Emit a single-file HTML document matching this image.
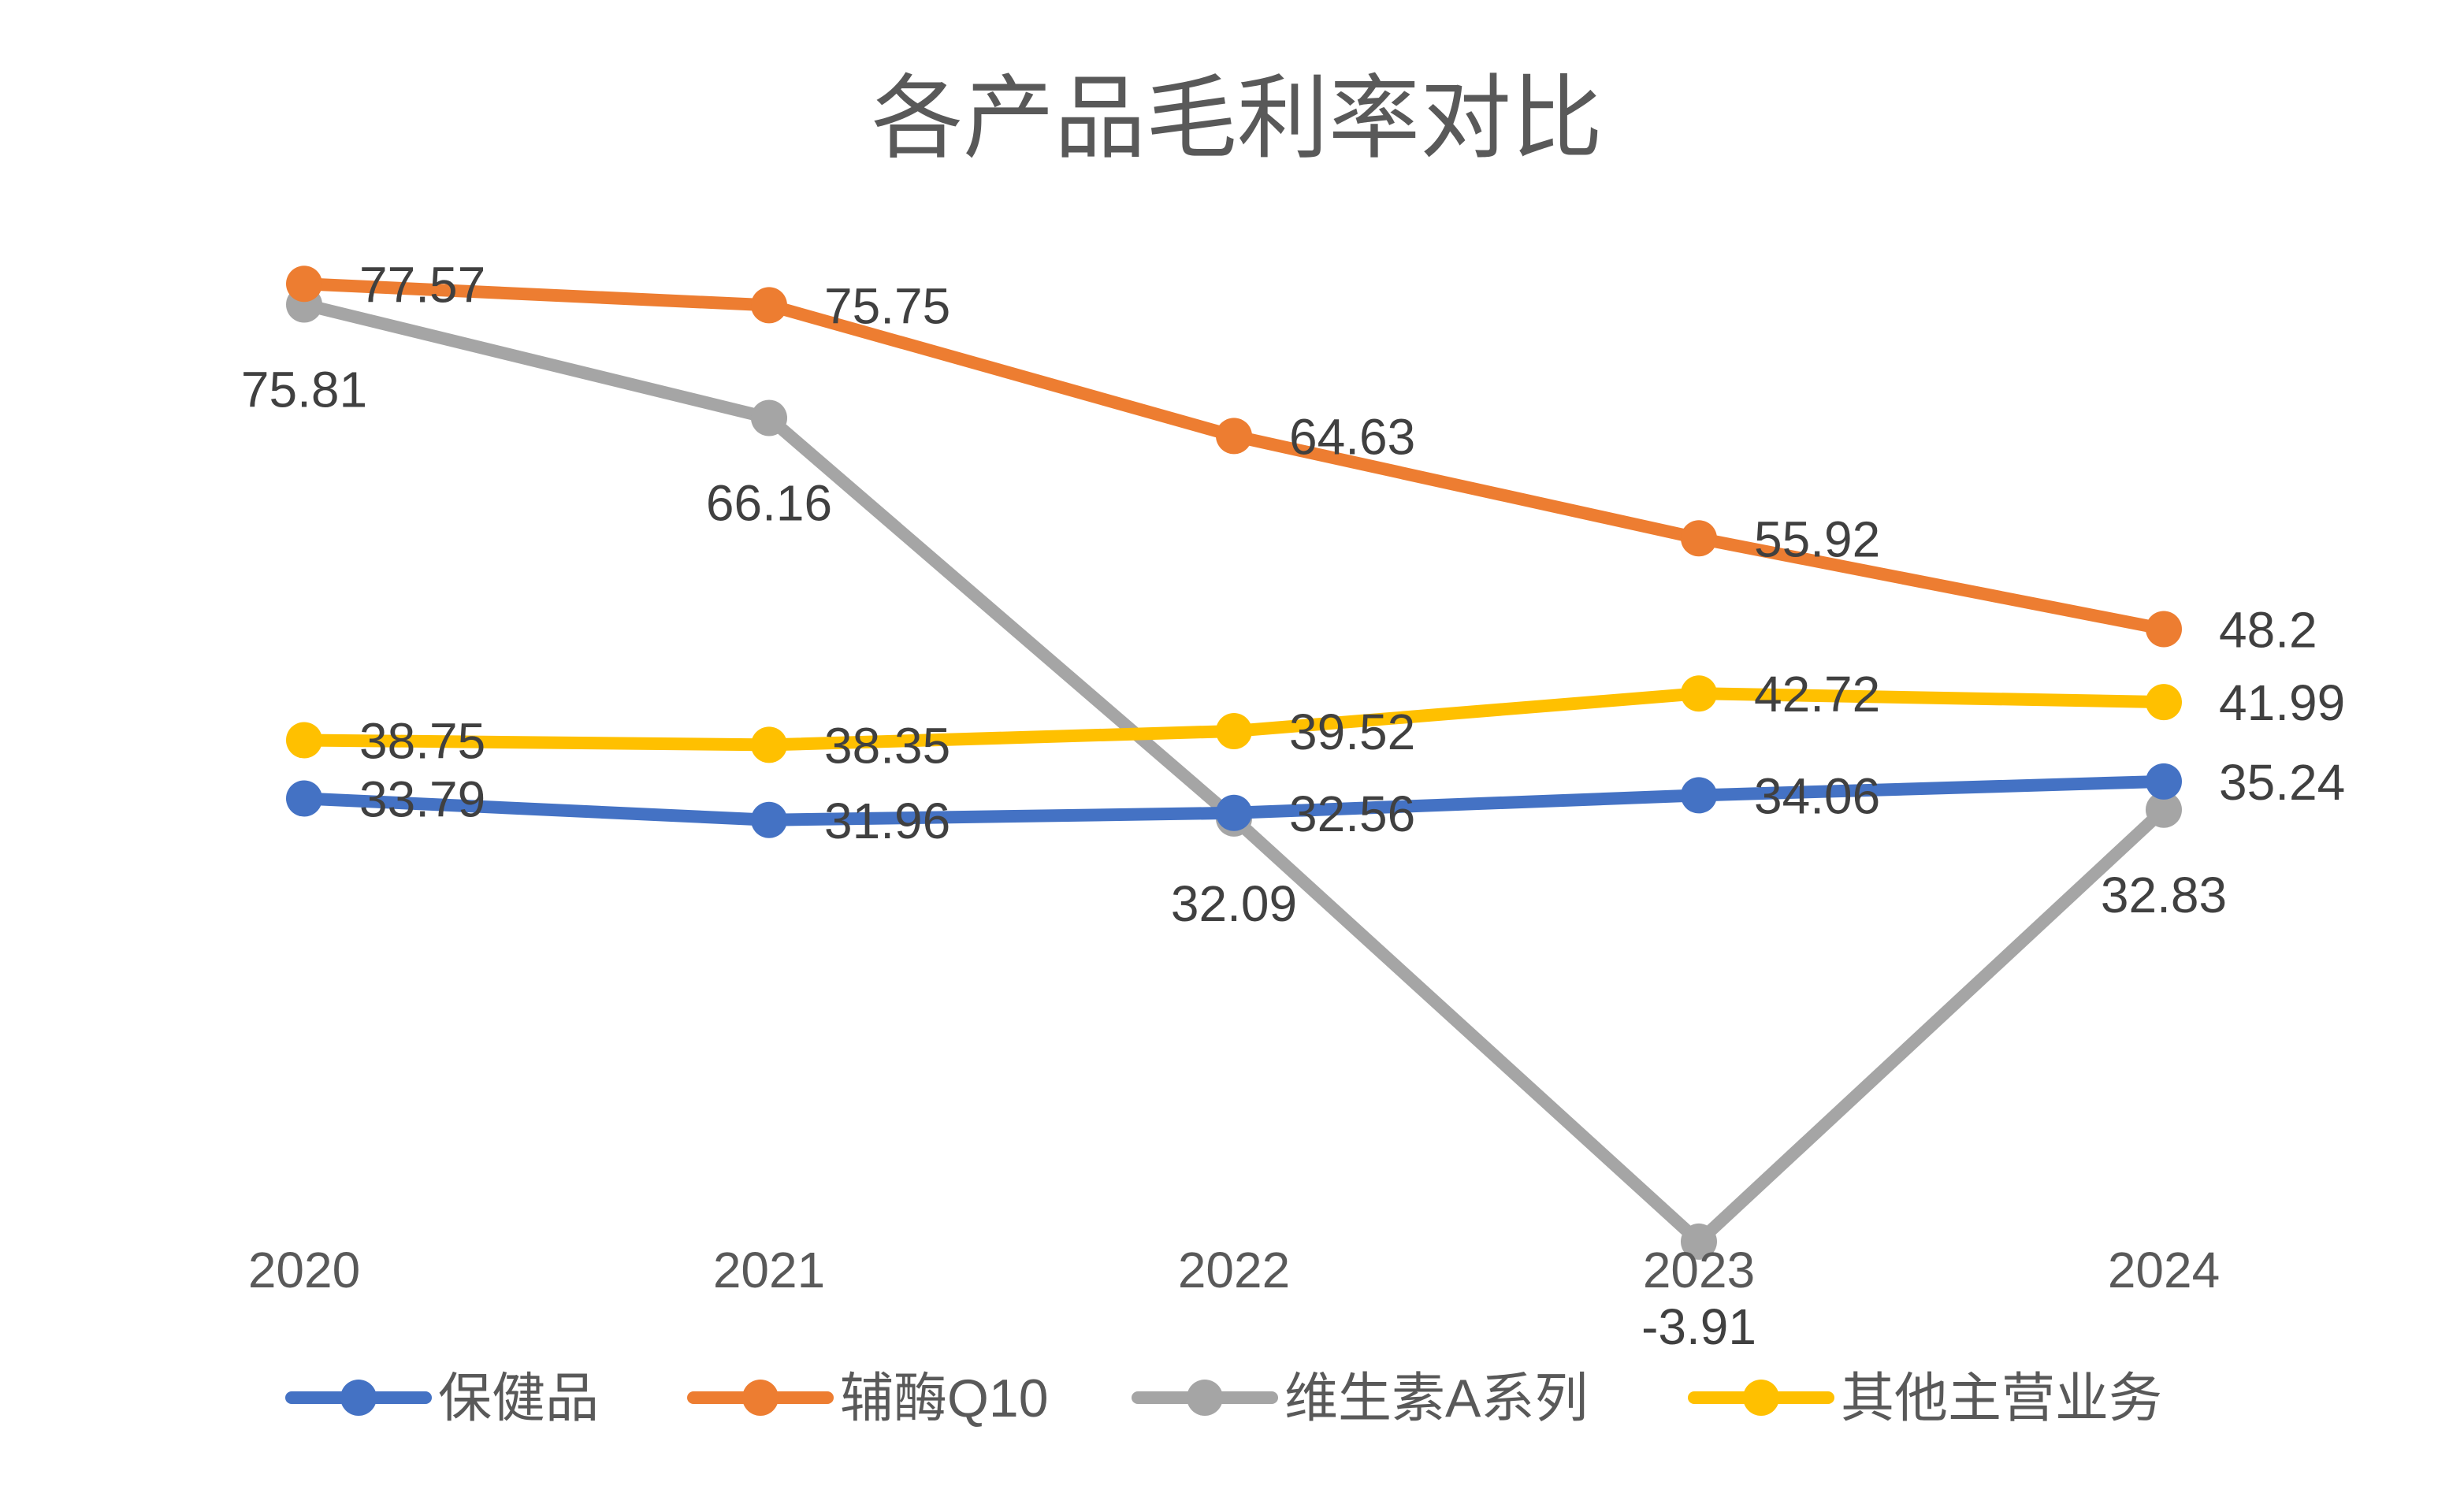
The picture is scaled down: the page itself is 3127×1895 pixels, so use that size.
<!DOCTYPE html>
<html><head><meta charset="utf-8"><style>
html,body{margin:0;padding:0;background:#fff;}
svg{display:block;font-family:"Liberation Sans","Noto Sans CJK SC",sans-serif;}
</style></head><body>
<svg id="chart" width="3127" height="1895" viewBox="0 0 3127 1895" xmlns="http://www.w3.org/2000/svg">
<rect width="3127" height="1895" fill="#fff"/>
<text x="1570" y="190" text-anchor="middle" font-size="116" fill="#595959">各产品毛利率对比</text>
<g id="plot"></g>
<g id="xaxis"></g>
<g id="legend"></g>
</svg>
<script>
const categories = ["2020","2021","2022","2023","2024"];
const seriesNames = ["保健品","辅酶Q10","维生素A系列","其他主营业务"];
const seriesColors = ["#4472C4","#ED7D31","#A5A5A5","#FFC000"];
const baojian = [33.79,31.96,32.56,34.06,35.24];
const fumei = [77.57,75.75,64.63,55.92,48.2];
const weiA = [75.81,66.16,32.09,-3.91,32.83];
const qita = [38.75,38.35,39.52,42.72,41.99];
const seriesValues = [baojian,fumei,weiA,qita];
const labelBelow = [false,false,true,false];

const NS="http://www.w3.org/2000/svg";
function xPos(i){return 386+i*590;}
function yPos(v){return 1517.6-v*14.92;}
function mk(tag,attrs,parent){const e=document.createElementNS(NS,tag);for(const k in attrs)e.setAttribute(k,attrs[k]);parent.appendChild(e);return e;}
const plot=document.getElementById('plot');
const xaxis=document.getElementById('xaxis');
const legend=document.getElementById('legend');

categories.forEach((c,i)=>{
  const t=mk('text',{x:xPos(i),y:1634,'text-anchor':'middle','font-size':64,fill:'#595959'},xaxis);
  
  
  t.textContent=c;
});

const order=[2,0,3,1];
order.forEach(s=>{
  const vals=seriesValues[s];
  const g=mk('g',{},plot);
  
  
  const pts=vals.map((v,i)=>xPos(i)+','+yPos(v)).join(' ');
  const pl=mk('polyline',{points:pts,fill:'none',stroke:seriesColors[s],'stroke-width':16,'stroke-linejoin':'round','stroke-linecap':'round'},g);
  
  
  vals.forEach((v,i)=>{
    const c=mk('circle',{cx:xPos(i),cy:yPos(v),r:23,fill:seriesColors[s]},g);
    
    
  });
});
order.forEach(s=>{
  const vals=seriesValues[s];
  vals.forEach((v,i)=>{
    let t;
    if(labelBelow[s]) t=mk('text',{x:xPos(i),y:yPos(v)+130,'text-anchor':'middle','font-size':64,fill:'#404040'},plot);
    else t=mk('text',{x:xPos(i)+70,y:yPos(v)+23,'text-anchor':'start','font-size':64,fill:'#404040'},plot);
    
    
    t.textContent=String(v);
  });
});

const legX=[370,880,1444,2150];
seriesNames.forEach((n,s)=>{
  const g=mk('g',{},legend);
  
  
  const l=mk('line',{x1:legX[s],y1:1774,x2:legX[s]+170,y2:1774,stroke:seriesColors[s],'stroke-width':16,'stroke-linecap':'round'},g);
  
  
  const c=mk('circle',{cx:legX[s]+85,cy:1774,r:23,fill:seriesColors[s]},g);
  
  
  const t=mk('text',{x:legX[s]+186,y:1798,'font-size':68,fill:'#595959'},g);
  
  
  t.textContent=n;
});
</script>
</body></html>
